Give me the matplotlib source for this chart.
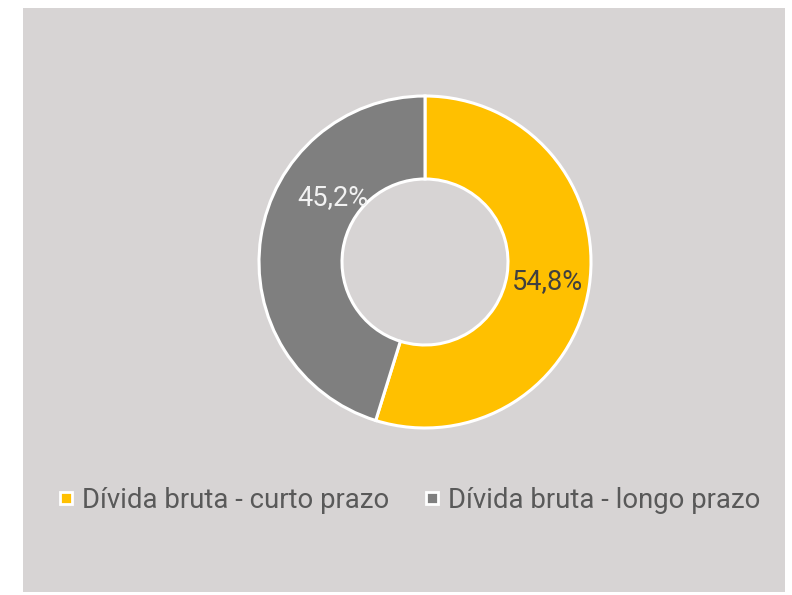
import numpy as np
import matplotlib.pyplot as plt
from matplotlib.patches import Rectangle
from matplotlib.lines import Line2D

labels = ["Dívida bruta - curto prazo", "Dívida bruta - longo prazo"]
values = [54.8, 45.2]
pct_text = ["54,8%", "45,2%"]
colors = ["#FFC000", "#7F7F7F"]
text_colors = ["#404040", "#F2F2F2"]

plt.rcParams['font.family'] = ['Roboto', 'DejaVu Sans']

fig = plt.figure(figsize=(7.92, 5.95), dpi=100)
fig.patch.set_facecolor('white')
# paper background panel
fig.patches.append(Rectangle((23 / 792, 3 / 595), 762 / 792, 584 / 595,
                             transform=fig.transFigure, facecolor='#d7d4d4',
                             edgecolor='none', zorder=-5))

ax = fig.add_axes([(425 - 166) / 792, 1 - (262 + 166) / 595, 332 / 792, 332 / 595])
ax.set_zorder(2)
ax.set_facecolor('none')
wedges, _ = ax.pie(values, colors=colors, startangle=90, counterclock=False,
                   radius=1.0, wedgeprops=dict(width=0.5, edgecolor='white', linewidth=2.2))
ax.set_xlim(-1.0, 1.0)
ax.set_ylim(-1.0, 1.0)
ax.set_aspect('equal')
ax.axis('off')

# label positions (angle in degrees, radius)
pos = [(-9, 0.75), (145, 0.68)]
for (ang, r), t, c in zip(pos, pct_text, text_colors):
    a = np.deg2rad(ang)
    ax.text(r * np.cos(a), r * np.sin(a), t, ha='center', va='center',
            fontsize=19.5, color=c)

handles = [Line2D([], [], marker='s', linestyle='none', markersize=9,
                  markerfacecolor=c, markeredgecolor='white', markeredgewidth=2)
           for c in colors]
leg = fig.legend(handles, labels, loc='center', bbox_to_anchor=(407 / 792, 1 - 500 / 595),
                 ncol=2, frameon=False, fontsize=19.8, labelcolor='#595959',
                 handletextpad=0.15, columnspacing=1.1, handlelength=0.9)
leg.set_zorder(3)

fig.savefig('out.png', dpi=100)
